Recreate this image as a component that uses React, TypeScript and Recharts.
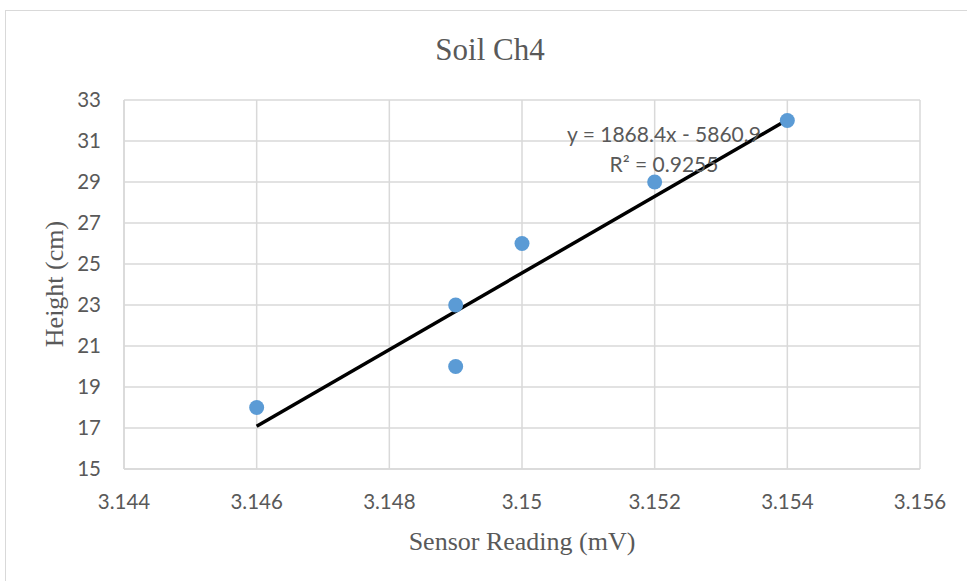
import React from "react";
import {
  ScatterChart,
  Scatter,
  XAxis,
  YAxis,
  CartesianGrid,
  ReferenceDot,
} from "recharts";

// Soil channel 4 calibration: sensor reading vs. measured height
const sensorReading = [3.146, 3.149, 3.149, 3.15, 3.152, 3.154];
const heightCm = [18, 23, 20, 26, 29, 32];

// Axis ticks
const xTicks = [3.144, 3.146, 3.148, 3.15, 3.152, 3.154, 3.156];
const yTicks = [15, 17, 19, 21, 23, 25, 27, 29, 31, 33];

// Linear trendline (least squares) and its fit quality
const trendSlope = 1868.4;
const trendIntercept = -5860.9;
const rSquared = 0.9255;
const trendSpan = [3.146, 3.154];

// Where the trendline equation sits, in data units
const equationAnchor = { x: 3.15214, y: 31.3 };

const points = sensorReading.map((x, i) => ({ x, y: heightCm[i] }));
const trendPoints = trendSpan.map((x) => ({ x, y: trendSlope * x + trendIntercept }));

const W = 967;
const H = 581;
const GRID = "#d9d9d9";
const TEXT = "#595959";
const TICK_FONT = "Lato, 'Open Sans', sans-serif";
const SERIF = "'Liberation Serif', 'Times New Roman', serif";

const Dot = (props: any) => (
  <circle cx={props.cx} cy={props.cy} r={7.5} fill="#5B9BD5" />
);

const NoMark = () => <g />;

const EquationLabel = (props: any) => {
  const { cx, cy } = props;
  const sign = trendIntercept < 0 ? "-" : "+";
  return (
    <g fontFamily={TICK_FONT} fontSize={21} fill={TEXT} textAnchor="middle">
      <text x={cx} y={cy} dy="0.35em">
        {`y = ${trendSlope}x ${sign} ${Math.abs(trendIntercept)}`}
      </text>
      <text x={cx} y={cy + 30} dy="0.35em">
        {`R² = ${rSquared}`}
      </text>
    </g>
  );
};

export default function App() {
  return (
    <div
      style={{
        position: "absolute",
        left: 0,
        top: 0,
        width: W,
        height: H,
        overflow: "hidden",
        background: "#fff",
      }}
    >
      <div
        style={{
          position: "absolute",
          left: 5,
          top: 10,
          width: 1000,
          height: 1000,
          border: `1.5px solid ${GRID}`,
          boxSizing: "border-box",
        }}
      />
      <div style={{ position: "absolute", left: 0, top: 0 }}>
        <ScatterChart
          width={W}
          height={H}
          margin={{ top: 100, right: 47, bottom: 72, left: 64 }}
        >
          <CartesianGrid stroke={GRID} strokeWidth={1.5} />
          <XAxis
            type="number"
            dataKey="x"
            domain={[3.144, 3.156]}
            ticks={xTicks}
            tickFormatter={(v: number) => String(v)}
            height={40}
            axisLine={{ stroke: GRID, strokeWidth: 1.5 }}
            tickLine={false}
            tickSize={6}
            tickMargin={19}
            tick={{ fill: TEXT, fontSize: 20.5, fontFamily: TICK_FONT }}
            allowDataOverflow
          />
          <YAxis
            type="number"
            dataKey="y"
            domain={[15, 33]}
            ticks={yTicks}
            width={60}
            axisLine={{ stroke: GRID, strokeWidth: 1.5 }}
            tickLine={false}
            tickSize={6}
            tickMargin={17}
            tick={{ fill: TEXT, fontSize: 20.5, fontFamily: TICK_FONT }}
            allowDataOverflow
          />
          <Scatter
            data={trendPoints}
            line={{ stroke: "#000000", strokeWidth: 3.5 }}
            shape={NoMark}
            isAnimationActive={false}
          />
          <Scatter data={points} shape={Dot} isAnimationActive={false} />
          <ReferenceDot
            x={equationAnchor.x}
            y={equationAnchor.y}
            r={0}
            shape={EquationLabel}
          />
        </ScatterChart>
      </div>
      <svg
        width={W}
        height={H}
        style={{ position: "absolute", left: 0, top: 0, pointerEvents: "none" }}
      >
        <text
          x={490}
          y={60}
          textAnchor="middle"
          fontFamily={SERIF}
          fontSize={31}
          fill={TEXT}
        >
          Soil Ch4
        </text>
        <text
          x={522}
          y={550}
          textAnchor="middle"
          fontFamily={SERIF}
          fontSize={26}
          fill={TEXT}
        >
          Sensor Reading (mV)
        </text>
        <text
          transform="translate(63,284) rotate(-90)"
          textAnchor="middle"
          fontFamily={SERIF}
          fontSize={26}
          fill={TEXT}
        >
          Height (cm)
        </text>
      </svg>
    </div>
  );
}
